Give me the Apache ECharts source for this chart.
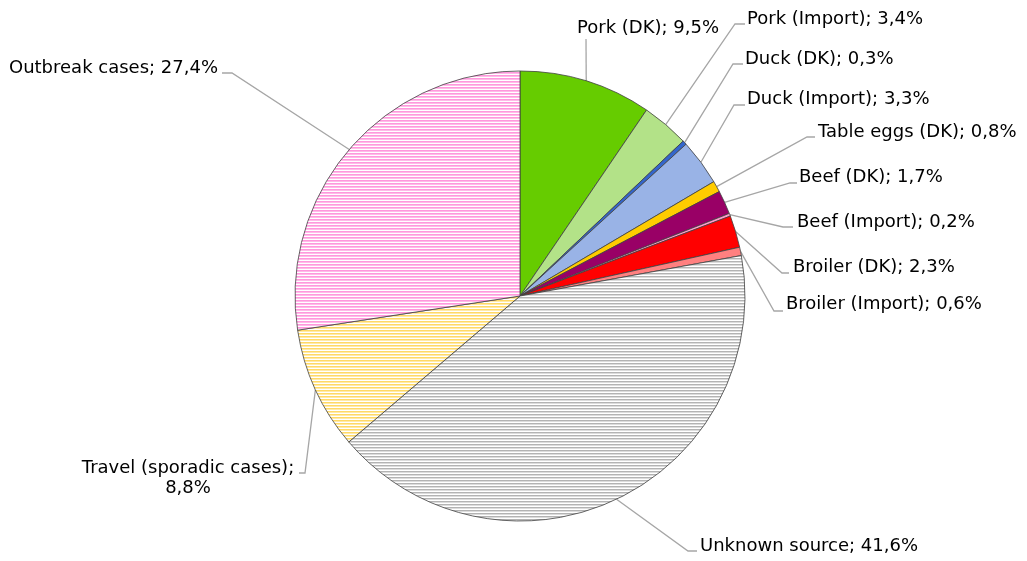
<!DOCTYPE html>
<html><head><meta charset="utf-8">
<script src="https://cdn.jsdelivr.net/npm/echarts@6/dist/echarts.min.js"></script>
<style>html,body{margin:0;padding:0;background:#fff}#c{width:1027px;height:561px}</style>
</head><body><div id="c"></div>
<script>
const categories = ['Pork (DK)','Pork (Import)','Duck (DK)','Duck (Import)','Table eggs (DK)','Beef (DK)','Beef (Import)','Broiler (DK)','Broiler (Import)','Unknown source','Travel (sporadic cases)','Outbreak cases'];
const values = [9.5, 3.4, 0.3, 3.3, 0.8, 1.7, 0.2, 2.3, 0.6, 41.6, 8.8, 27.4];

// styles
const solidColors = ['#66cc00','#b3e288','#3366cc','#99b3e6','#ffcc00','#990066','#ff99cc','#ff0000','#ff8080',null,null,null];
function stripes(c1, c2){
  const cv = document.createElement('canvas'); cv.width = 8; cv.height = 3;
  const g = cv.getContext('2d');
  g.fillStyle = '#ffffff'; g.fillRect(0,0,8,3);
  g.fillStyle = c1; g.fillRect(0,0,8,1);
  g.fillStyle = c2; g.fillRect(0,1,8,1);
  return {image: cv, repeat: 'repeat'};
}
const patternFills = {9: stripes('#b3b3b3','#dcdcdc'), 10: stripes('#ffd966','#ffeaa8'), 11: stripes('#ff99dd','#ffbbe8')};
// label placement: [x, y, align, bendX, bendY, endX, endY]
const labelPos = [
  [577,28,'left',586,39,586,39],
  [747,19,'left',735,24,745,24],
  [745,59,'left',733,64,743,64],
  [747,99,'left',734,105,745,105],
  [818,132,'left',807,137,815,137],
  [799,177,'left',790,183,797,183],
  [797,222,'left',783,227,793,227],
  [793,267,'left',782,273,789,273],
  [786,304,'left',774,311,783,311],
  [700,546,'left',688,551,697,551],
  [188,478,'center',305,473,299,473],
  [218,68,'right',232,73,222,73]
];
const wrapAfterName = {10: true};

const data = categories.map((n,i)=>({
  name: n, value: values[i],
  itemStyle: {color: patternFills[i] || solidColors[i]}
}));

const chart = echarts.init(document.getElementById('c'), null, {renderer:'canvas'});
chart.setOption({
  animation: false,
  series: [{
    type: 'pie',
    center: [520, 296],
    radius: 225,
    startAngle: 90,
    clockwise: true,
    avoidLabelOverlap: false,
    data: data,
    itemStyle: {borderColor: '#404040', borderWidth: 0.8},
    emphasis: {disabled: true},
    label: {
      show: true, position: 'outside',
      fontFamily: '"DejaVu Sans", Verdana, sans-serif', fontSize: 18, color: '#000', lineHeight: 20,
      formatter: p => p.name + ';' + (wrapAfterName[p.dataIndex] ? '\n' : ' ') + p.value.toFixed(1).replace('.', ',') + '%'
    },
    labelLine: {show: true, length: 10, length2: 10, lineStyle: {color: '#a6a6a6', width: 1.3}},
    labelLayout: function(params){
      const L = labelPos[params.dataIndex];
      const pts = params.labelLinePoints;
      const start = pts ? pts[0] : [L[3], L[4]];
      return {
        x: L[0], y: L[1], align: L[2], verticalAlign: 'middle',
        labelLinePoints: [start, [L[3], L[4]], [L[5], L[6]]]
      };
    }
  }]
});
</script></body></html>
